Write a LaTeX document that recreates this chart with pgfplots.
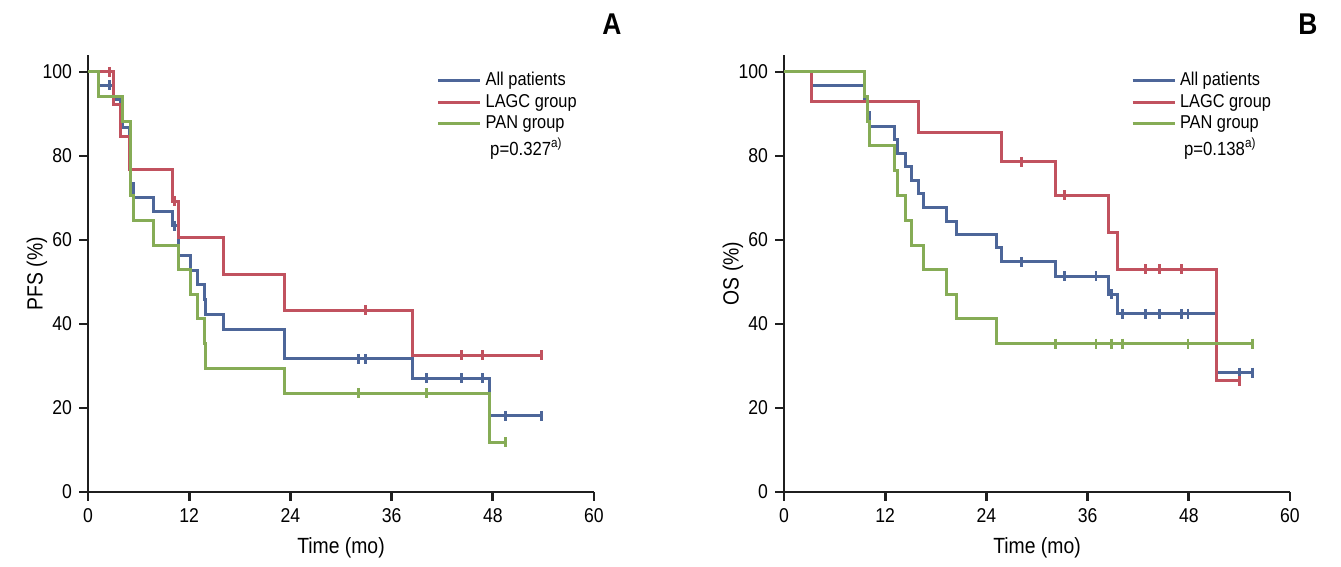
\documentclass[border=0pt]{standalone}
\usepackage{fontspec}
\setmainfont{Liberation Sans}[FakeStretch=0.88]
\usepackage{pgfplots}
\pgfplotsset{compat=1.18}
\definecolor{cBlue}{RGB}{77,102,153}
\definecolor{cRed}{RGB}{193,82,95}
\definecolor{cGreen}{RGB}{134,172,86}
\pgfplotsset{kmstyle/.style={
  scale only axis, width=253pt, height=218.4pt,
  xmin=0, xmax=60, ymin=0, ymax=104,
  axis x line*=bottom, axis y line*=left,
  xtick={0,12,...,60}, ytick={0,20,...,100},
  tick align=outside, major tick length=4.5pt,
  axis line style={line width=1.4pt, black!88},
  every tick/.style={line width=1.4pt, black!88},
  tick label style={font=\fontsize{10}{12}\selectfont},
  /pgf/number format/assume math mode=true,
  xlabel style={font=\fontsize{11}{13}\selectfont, at={(axis description cs:0.5,-0.128)}, anchor=center},
  ylabel style={font=\fontsize{11}{13}\selectfont, at={(axis description cs:-0.101,0.5)}, anchor=center},
  clip=false,
  legend style={draw=none, fill=none, font=\fontsize{9.3}{10}\selectfont, anchor=north west, inner sep=0pt, row sep=-1.2pt,
    /tikz/every even column/.append style={column sep=4.8pt}},
  legend cell align=left,
  legend image code/.code={\draw[#1] (0pt,0pt) -- (21pt,0pt);},
},
km/.style={const plot, line width=1.5pt, #1},
cens/.style={only marks, mark=|, mark size=2.5pt, mark options={line width=1.4pt}, #1, forget plot},
}
\begin{document}
\begin{tikzpicture}
\path[use as bounding box] (-44pt,-37.5pt) rectangle (626.5pt,246pt);
% Panel A
\begin{axis}[kmstyle, at={(0pt,0pt)}, anchor=south west, xlabel={Time (mo)}, ylabel={PFS (\%)},
  legend style={at={(axis cs:41.3,101)}}]
\addplot[km=cBlue] coordinates {(0,100) (1.28,96.8) (3.0,93.4) (3.8,90.1) (4.1,86.8) (4.9,83.5) (5.0,73.5) (5.4,70.1) (7.75,66.7) (10.0,63.4) (10.75,56.4) (12.1,52.8) (13.0,49.3) (13.8,45.8) (13.9,42.2) (16.07,38.7) (23.3,31.7) (38.5,27.1) (47.6,18.1) (53.75,18.1)};
\addlegendentry{All patients}
\addplot[km=cRed] coordinates {(0,100) (3.0,92.3) (3.8,84.6) (4.9,76.9) (10.0,69.2) (10.75,60.6) (16.07,51.9) (23.3,43.3) (38.5,32.5) (53.75,32.5)};
\addlegendentry{LAGC group}
\addplot[km=cGreen] coordinates {(0,100) (1.28,94.1) (4.1,88.2) (5.0,70.6) (5.4,64.7) (7.75,58.8) (10.75,52.9) (12.1,47.1) (13.0,41.2) (13.8,35.3) (13.9,29.4) (23.3,23.5) (47.6,11.8) (49.5,11.8)};
\addlegendentry{PAN group}
\addplot[cens=cBlue] coordinates {(2.54,96.8) (10.3,63.4) (32.1,31.7) (32.9,31.7) (40.1,27.1) (44.3,27.1) (46.8,27.1) (49.5,18.1) (53.75,18.1)};
\addplot[cens=cRed] coordinates {(2.54,100) (10.24,69.2) (32.9,43.3) (44.3,32.5) (46.8,32.5) (53.75,32.5)};
\addplot[cens=cGreen] coordinates {(32.1,23.5) (40.1,23.5) (49.5,11.8)};
\node[anchor=west, inner sep=0pt, font=\fontsize{9.5}{10}\selectfont] at (axis cs:47.65,81.7) {p=0.327\textsuperscript{a)}};
\end{axis}
% Panel B
\begin{axis}[kmstyle, at={(348pt,0pt)}, anchor=south west, xlabel={Time (mo)}, ylabel={OS (\%)},
  legend style={at={(axis cs:41.1,101)}}]
\addplot[km=cBlue] coordinates {(0,100) (3.27,96.8) (9.6,93.5) (9.9,90.3) (10.1,87.1) (13.1,83.9) (13.5,80.6) (14.4,77.4) (15.1,74.2) (16.0,71.0) (16.6,67.7) (19.3,64.5) (20.4,61.3) (25.2,58.1) (25.8,54.8) (32.2,51.4) (38.5,47.1) (39.5,42.4) (51.3,28.4) (55.6,28.4)};
\addlegendentry{All patients}
\addplot[km=cRed] coordinates {(0,100) (3.27,92.9) (16.0,85.7) (25.8,78.6) (32.2,70.7) (38.5,61.9) (39.6,53.0) (51.3,26.5) (54.0,26.5)};
\addlegendentry{LAGC group}
\addplot[km=cGreen] coordinates {(0,100) (9.6,94.1) (9.9,88.2) (10.1,82.4) (13.1,76.5) (13.5,70.6) (14.4,64.7) (15.1,58.8) (16.6,52.9) (19.3,47.1) (20.4,41.2) (25.2,35.3) (55.6,35.3)};
\addlegendentry{PAN group}
\addplot[cens=cBlue] coordinates {(28.2,54.8) (33.3,51.4) (37.0,51.4) (38.8,47.1) (40.1,42.4) (42.9,42.4) (44.5,42.4) (47.1,42.4) (47.9,42.4) (54.0,28.4) (55.6,28.4)};
\addplot[cens=cRed] coordinates {(28.2,78.6) (33.3,70.7) (42.9,53.0) (44.5,53.0) (47.1,53.0) (54.0,26.5)};
\addplot[cens=cGreen] coordinates {(32.2,35.3) (37.0,35.3) (38.8,35.3) (40.1,35.3) (47.9,35.3) (55.6,35.3)};
\node[anchor=west, inner sep=0pt, font=\fontsize{9.5}{10}\selectfont] at (axis cs:47.4,81.7) {p=0.138\textsuperscript{a)}};
\end{axis}
\node[font=\bfseries\fontsize{15}{15}\selectfont] at (262pt,234pt) {A};
\node[font=\bfseries\fontsize{15}{15}\selectfont] at (610pt,234pt) {B};
\end{tikzpicture}
\end{document}
